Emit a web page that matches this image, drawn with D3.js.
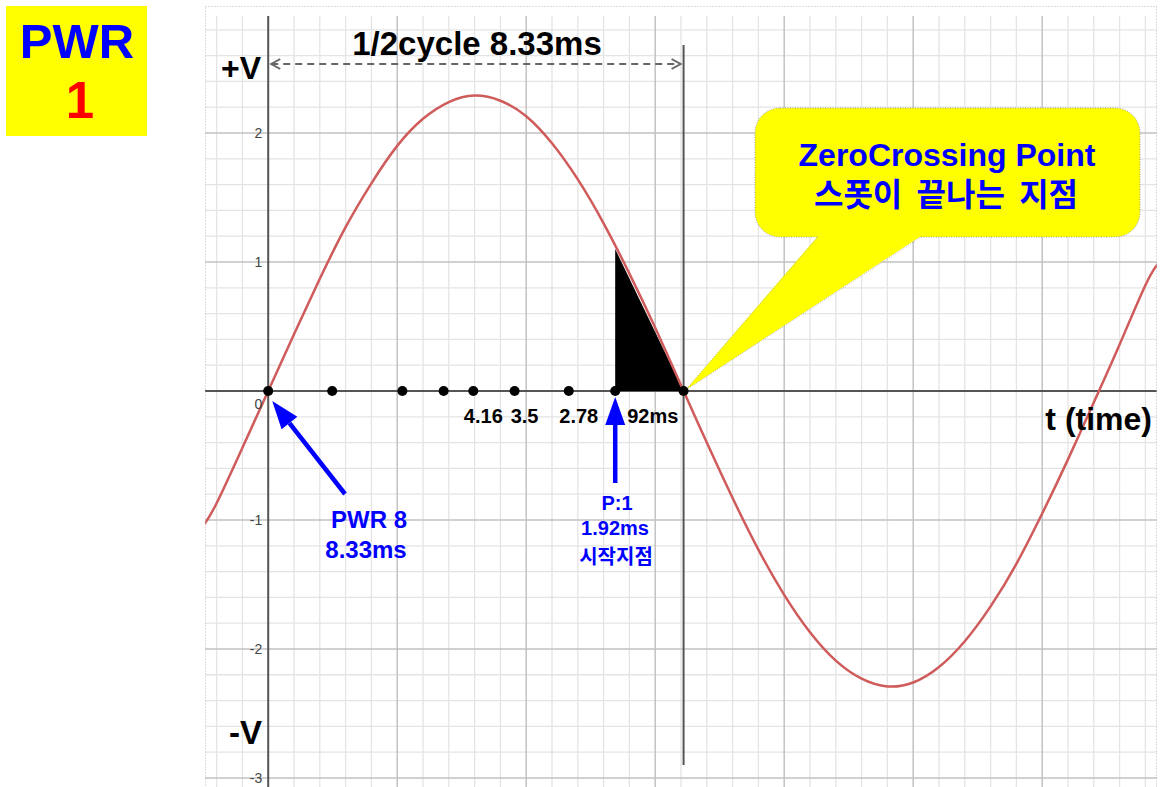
<!DOCTYPE html>
<html>
<head>
<meta charset="utf-8">
<script src="https://cdn.jsdelivr.net/npm/d3@7"></script>
<style>
  body { margin: 0; background: #fff; }
  svg { display: block; font-family: "Liberation Sans", Arial, sans-serif; }
  .kr { font-family: "Noto Sans CJK KR", "Liberation Sans", sans-serif; }
</style>
</head>
<body>
<svg id="chart" width="1169" height="787"></svg>
<script>
// Sine wave points (t, V)
const waveT = [-0.5, -0.4, -0.2, 0, 0.2, 0.4, 0.6, 0.8, 1.0, 1.2, 1.4, 1.6, 1.8, 2.0, 2.2, 2.4, 2.6, 2.8, 3.0, 3.22,
  3.4, 3.6, 3.8, 4.0, 4.2, 4.4, 4.6, 4.8, 5.0, 5.2, 5.4, 5.6, 5.8, 6.0, 6.2, 6.44, 6.6, 6.8, 6.9];
const waveV = [-1.04, -0.87, -0.44, 0, 0.44, 0.87, 1.27, 1.61, 1.90, 2.11, 2.24, 2.29, 2.25, 2.13, 1.92, 1.64, 1.30, 0.91, 0.49, 0,
  -0.40, -0.83, -1.23, -1.58, -1.87, -2.09, -2.23, -2.29, -2.26, -2.14, -1.94, -1.67, -1.34, -0.95, -0.53, 0, 0.36, 0.82, 0.99];

// Dots on the time axis and their labels
const dotT = [0, 0.496, 1.04, 1.36, 1.59, 1.91, 2.33, 2.69, 3.22];
const dotLabels = ["", "", "", "", "4.16", "3.5", "2.78", "92ms", ""];

// Shaded part (start of the firing to zero crossing)
const shadeT = [2.69, 3.22];
const shadeTopV = 1.1;

// Axis ticks
const yTicks = [-3, -2, -1, 1, 2];
const halfCycleT = 3.22;

const svg = d3.select("#chart");

// Scales
const x = d3.scaleLinear().domain([-0.49, 6.89]).range([205, 1157]);
const y = d3.scaleLinear().domain([-3.07, 2.907]).range([787, 16]);

// Clip for the plot area
svg.append("defs").append("clipPath").attr("id", "plot")
  .append("rect").attr("x", 205).attr("y", 16).attr("width", 952).attr("height", 771);

const plot = svg.append("g").attr("clip-path", "url(#plot)");

// Grid
const minorX = d3.range(-0.4, 6.9, 0.2).filter((d) => Math.abs(d - Math.round(d)) > 0.01);
const minorY = d3.range(-3, 3, 0.2).filter((d) => Math.abs(d - Math.round(d)) > 0.01);
plot.selectAll(".minx").data(minorX).join("line")
  .attr("x1", (d) => x(d)).attr("x2", (d) => x(d)).attr("y1", 16).attr("y2", 787)
  .attr("stroke", "#e4e4e4").attr("stroke-width", 1.3);
plot.selectAll(".miny").data(minorY).join("line")
  .attr("y1", (d) => y(d)).attr("y2", (d) => y(d)).attr("x1", 205).attr("x2", 1157)
  .attr("stroke", "#e4e4e4").attr("stroke-width", 1.3);
plot.selectAll(".majx").data(d3.range(1, 7)).join("line")
  .attr("x1", (d) => x(d)).attr("x2", (d) => x(d)).attr("y1", 16).attr("y2", 787)
  .attr("stroke", "#c2c2c2").attr("stroke-width", 1.5);
plot.selectAll(".majy").data(yTicks).join("line")
  .attr("y1", (d) => y(d)).attr("y2", (d) => y(d)).attr("x1", 205).attr("x2", 1157)
  .attr("stroke", "#c2c2c2").attr("stroke-width", 1.5);

// Axes
plot.append("line").attr("x1", x(0)).attr("x2", x(0)).attr("y1", 16).attr("y2", 787)
  .attr("stroke", "#555").attr("stroke-width", 2);
plot.append("line").attr("x1", 205).attr("x2", 1157).attr("y1", y(0)).attr("y2", y(0))
  .attr("stroke", "#555").attr("stroke-width", 2);

// Frame
svg.append("rect").attr("x", 205.5).attr("y", 6.5).attr("width", 951).attr("height", 790)
  .attr("fill", "none").attr("stroke", "#bbb").attr("stroke-dasharray", "1,2");

// Tick labels
svg.selectAll(".ytick").data(yTicks).join("text")
  .attr("x", x(0) - 6).attr("y", (d) => y(d) + 5)
  .attr("text-anchor", "end").attr("font-size", 14).attr("fill", "#444")
  .text((d) => d);
svg.append("text").attr("x", x(0) - 6).attr("y", y(0) + 18)
  .attr("text-anchor", "end").attr("font-size", 14).attr("fill", "#444").text("0");

// Shaded triangle
plot.append("path")
  .attr("d", d3.line()([[x(shadeT[0]), y(0)], [x(shadeT[0]), y(shadeTopV)], [x(shadeT[1]), y(0)]]) + "Z")
  .attr("fill", "#000");

// Half cycle vertical line
svg.append("line").attr("x1", x(halfCycleT)).attr("x2", x(halfCycleT)).attr("y1", 45).attr("y2", 765)
  .attr("stroke", "#555").attr("stroke-width", 2);

// Sine wave
const wave = waveT.map((t, i) => [t, waveV[i]]);
plot.append("path").datum(wave)
  .attr("d", d3.line().x((d) => x(d[0])).y((d) => y(d[1])).curve(d3.curveNatural))
  .attr("fill", "none").attr("stroke", "#cf5b5b").attr("stroke-width", 2.5);

// Callout
const callout = svg.append("g");
callout.append("rect").attr("x", 755).attr("y", 108).attr("width", 385).attr("height", 129)
  .attr("rx", 25).attr("fill", "#ffff00").attr("stroke", "#999").attr("stroke-dasharray", "1,1.5");
callout.append("path")
  .attr("d", `M818,236 L${x(halfCycleT) + 2},${y(0) - 1} L921,236 Z`)
  .attr("fill", "#ffff00");
callout.append("path")
  .attr("d", `M818,237 L${x(halfCycleT) + 2},${y(0) - 1} L921,237`)
  .attr("fill", "none").attr("stroke", "#999").attr("stroke-width", 0.8).attr("stroke-dasharray", "1,1.5");
callout.append("text").attr("x", 947).attr("y", 166).attr("text-anchor", "middle")
  .attr("font-size", 32).attr("font-weight", "bold").attr("fill", "#0000ff").text("ZeroCrossing Point");
callout.append("text").attr("class", "kr").attr("x", 946).attr("y", 206).attr("text-anchor", "middle")
  .attr("font-size", 32).attr("font-weight", "bold").attr("fill", "#0000ff")
  .style("word-spacing", "7px").text("스폿이 끝나는 지점");

// Dots
svg.selectAll(".dot").data(dotT).join("circle")
  .attr("cx", (d) => x(d)).attr("cy", y(0)).attr("r", 5).attr("fill", "#000");
svg.selectAll(".dotlab").data(dotT.filter((d, i) => dotLabels[i])).join("text")
  .attr("x", (d) => x(d) + (dotLabels[dotT.indexOf(d)] === "92ms" ? 12 : 10))
  .attr("y", 423)
  .attr("text-anchor", (d) => (dotLabels[dotT.indexOf(d)] === "92ms" ? "start" : "middle"))
  .attr("font-size", 20).attr("font-weight", "bold").attr("fill", "#000")
  .text((d) => dotLabels[dotT.indexOf(d)]);

// Half cycle dashed arrow
svg.append("line").attr("x1", x(0) + 3).attr("x2", x(halfCycleT) - 3).attr("y1", 64).attr("y2", 64)
  .attr("stroke", "#666").attr("stroke-width", 2).attr("stroke-dasharray", "7,5");
svg.append("path")
  .attr("d", `M${x(0) + 12},59 L${x(0) + 3},64 L${x(0) + 12},69 M${x(halfCycleT) - 12},59 L${x(halfCycleT) - 3},64 L${x(halfCycleT) - 12},69`)
  .attr("fill", "none").attr("stroke", "#666").attr("stroke-width", 2);
svg.append("text").attr("x", 477).attr("y", 55).attr("text-anchor", "middle")
  .attr("font-size", 33).attr("font-weight", "bold").attr("fill", "#000").text("1/2cycle 8.33ms");

// Axis titles
svg.append("text").attr("x", 261).attr("y", 79).attr("text-anchor", "end")
  .attr("font-size", 32).attr("font-weight", "bold").text("+V");
svg.append("text").attr("x", 262).attr("y", 744).attr("text-anchor", "end")
  .attr("font-size", 33).attr("font-weight", "bold").text("-V");
svg.append("text").attr("x", 1152).attr("y", 430).attr("text-anchor", "end")
  .attr("font-size", 32).attr("font-weight", "bold").text("t (time)");

// Blue arrows
function arrow(x1, y1, x2, y2) {
  const a = Math.atan2(y2 - y1, x2 - x1);
  const len = 28, half = 10;
  const bx = x2 - len * Math.cos(a), by = y2 - len * Math.sin(a);
  svg.append("line").attr("x1", x1).attr("y1", y1).attr("x2", bx).attr("y2", by)
    .attr("stroke", "#0000ff").attr("stroke-width", 4.5);
  svg.append("path")
    .attr("d", `M${x2},${y2} L${bx + half * Math.sin(a)},${by - half * Math.cos(a)} L${bx - half * Math.sin(a)},${by + half * Math.cos(a)} Z`)
    .attr("fill", "#0000ff");
}
arrow(345, 494, x(0) + 4, y(0) + 10);
arrow(x(shadeT[0]), 483, x(shadeT[0]), y(0) + 6);

// Blue annotations
svg.append("text").attr("x", 369).attr("y", 528).attr("text-anchor", "middle")
  .attr("font-size", 24).attr("font-weight", "bold").attr("fill", "#0000ff").text("PWR 8");
svg.append("text").attr("x", 366).attr("y", 558).attr("text-anchor", "middle")
  .attr("font-size", 24).attr("font-weight", "bold").attr("fill", "#0000ff").text("8.33ms");
svg.append("text").attr("x", 617).attr("y", 510).attr("text-anchor", "middle")
  .attr("font-size", 20).attr("font-weight", "bold").attr("fill", "#0000ff").text("P:1");
svg.append("text").attr("x", 615).attr("y", 535).attr("text-anchor", "middle")
  .attr("font-size", 20).attr("font-weight", "bold").attr("fill", "#0000ff").text("1.92ms");
svg.append("text").attr("class", "kr").attr("x", 616).attr("y", 564).attr("text-anchor", "middle")
  .attr("font-size", 20).attr("font-weight", "bold").attr("fill", "#0000ff").text("시작지점");

// PWR box
svg.append("rect").attr("x", 6).attr("y", 6).attr("width", 141).attr("height", 130).attr("fill", "#ffff00");
svg.append("text").attr("x", 77).attr("y", 58).attr("text-anchor", "middle")
  .attr("font-size", 49).attr("font-weight", "bold").attr("fill", "#0000ff").text("PWR");
svg.append("text").attr("x", 80).attr("y", 118).attr("text-anchor", "middle")
  .attr("font-size", 51).attr("font-weight", "bold").attr("fill", "#ff0000").text("1");
</script>
</body>
</html>
